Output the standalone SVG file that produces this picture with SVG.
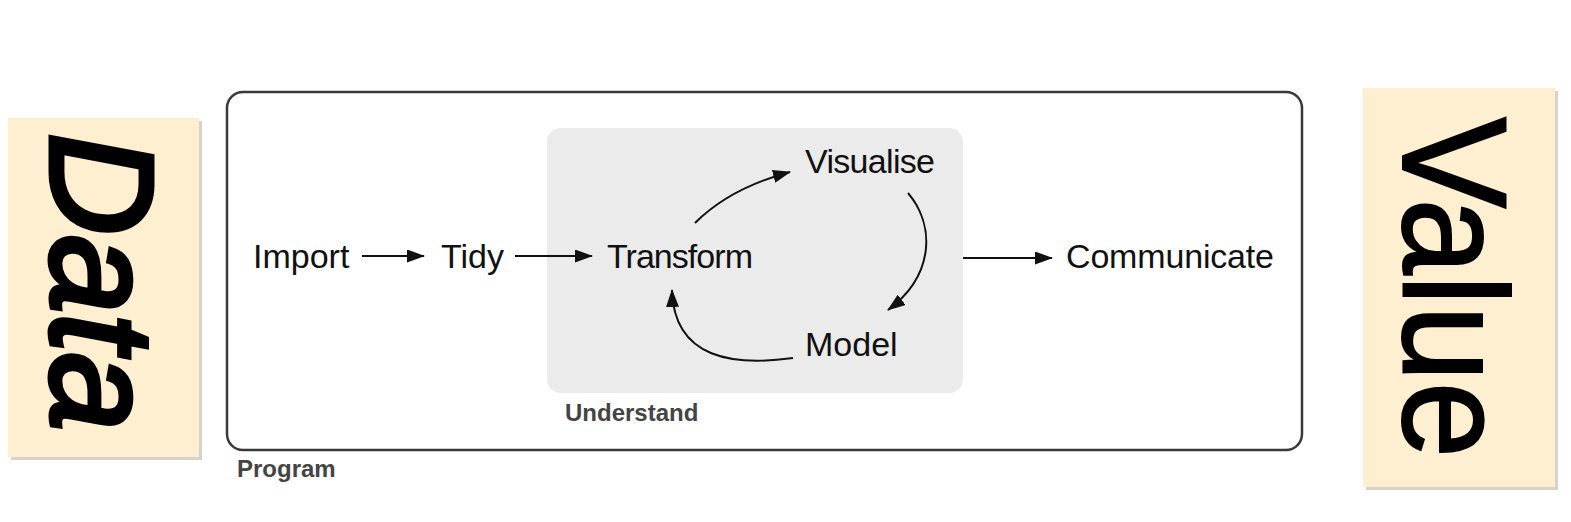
<svg xmlns="http://www.w3.org/2000/svg" width="1571" height="522" viewBox="0 0 1571 522">
<style>
.lbl{font-family:"Liberation Sans",Arial,sans-serif;font-size:34px;fill:#111;}
.cap{font-family:"Liberation Sans",Arial,sans-serif;font-size:24px;font-weight:bold;fill:#444;}
.side{fill:#fdefd0;}
.shadow{fill:#bdb6a6;opacity:0.6;}
.big{font-family:"Liberation Sans",Arial,sans-serif;fill:#000;stroke:#000;}
.conn{fill:none;stroke:#111;stroke-width:2;}
</style>
<defs>
<marker id="ah" markerUnits="userSpaceOnUse" markerWidth="18" markerHeight="13" refX="17" refY="6.5" orient="auto">
<path d="M0,0 L18,6.5 L0,13 z" fill="#111"/>
</marker>
</defs>
<rect width="1571" height="522" fill="#ffffff"/>

<g id="data">
<rect class="shadow" x="11" y="121" width="191" height="339"/>
<rect class="side" x="8" y="118" width="191" height="339"/>
<text class="big" transform="translate(51,133) rotate(90)" font-size="146" font-style="italic" stroke-width="5" textLength="298" lengthAdjust="spacingAndGlyphs">Data</text>
</g>

<g id="value">
<rect class="shadow" x="1366" y="91" width="192" height="399"/>
<rect class="side" x="1363" y="88" width="192" height="399"/>
<text class="big" transform="translate(1403,117) rotate(90)" font-size="148" stroke-width="2" textLength="341" lengthAdjust="spacingAndGlyphs">Value</text>
</g>

<g id="program">
<rect x="227" y="92" width="1075" height="358" rx="16" fill="none" stroke="#3a3a3a" stroke-width="2.5"/>
<text class="cap" x="237" y="477">Program</text>
</g>

<g id="understand">
<rect x="547" y="128" width="416" height="265" rx="14" fill="#ebebeb"/>
<text class="cap" x="565" y="421">Understand</text>
</g>

<g id="import"><text class="lbl" x="253" y="268">Import</text></g>
<g id="tidy"><text class="lbl" x="441" y="268">Tidy</text></g>
<g id="transform"><text class="lbl" x="607" y="268" textLength="146">Transform</text></g>
<g id="visualise"><text class="lbl" x="805" y="173" textLength="130">Visualise</text></g>
<g id="model"><text class="lbl" x="805" y="356">Model</text></g>
<g id="communicate"><text class="lbl" x="1066" y="268" textLength="208">Communicate</text></g>

<g id="connectors">
<path class="conn" d="M362,256 L424,256" marker-end="url(#ah)"/>
<path class="conn" d="M515,256 L592,256" marker-end="url(#ah)"/>
<path class="conn" d="M963,258 L1052,258" marker-end="url(#ah)"/>
<path class="conn" d="M695,223 Q730,188 790,172" marker-end="url(#ah)"/>
<path class="conn" d="M908,193 C935,225 935,275 888,310" marker-end="url(#ah)"/>
<path class="conn" d="M793,358 C735,366 674,360 672,290" marker-end="url(#ah)"/>
</g>
</svg>
